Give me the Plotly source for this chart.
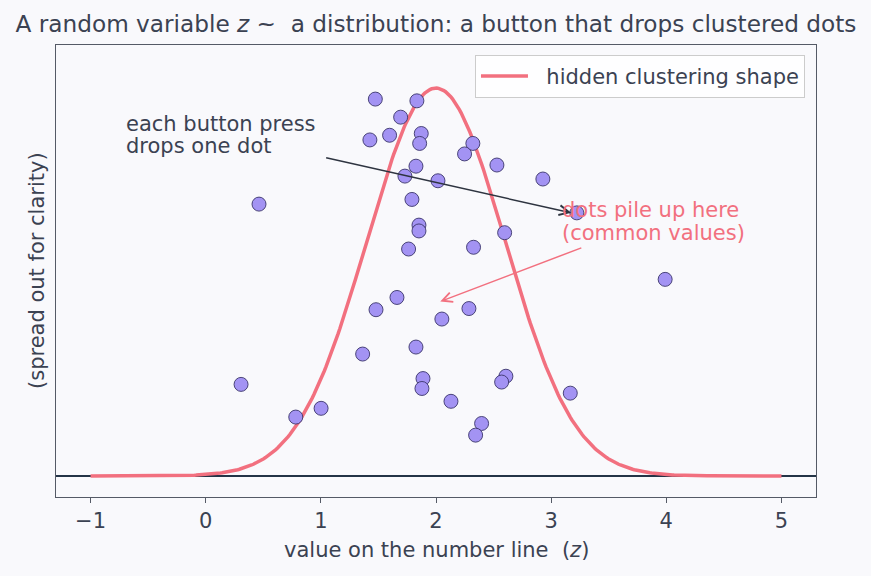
import numpy as np
import plotly.graph_objects as go

# ---- data ----
dot_x = [1.473, 1.834, 1.693, 1.597, 1.426, 1.872, 1.858, 2.320, 2.248, 2.529,
         1.826, 1.730, 2.017, 2.928, 1.791, 1.852, 1.852, 3.223, 2.596, 0.463,
         1.762, 2.326, 1.661, 1.479, 2.286, 2.051, 1.826, 1.363, 1.887, 1.878,
         2.607, 2.570, 3.166, 2.130, 2.396, 2.344, 0.307, 0.782, 1.002, 3.990]
dot_y = [0.646, 0.643, 0.615, 0.584, 0.576, 0.587, 0.570, 0.570, 0.552, 0.533,
         0.531, 0.514, 0.506, 0.509, 0.474, 0.430, 0.420, 0.451, 0.417, 0.466,
         0.389, 0.392, 0.306, 0.285, 0.287, 0.269, 0.221, 0.209, 0.167, 0.150,
         0.171, 0.161, 0.142, 0.128, 0.090, 0.070, 0.157, 0.101, 0.116, 0.337]

curve_mu = 2.0
curve_sigma = 0.6
curve_x_min, curve_x_max = -1.0, 5.0

x_tick_vals = [-1, 0, 1, 2, 3, 4, 5]
x_tick_text = ["\u22121", "0", "1", "2", "3", "4", "5"]

title_text = "A random variable <i>z</i> ~  a distribution: a button that drops clustered dots"
legend_label = "hidden clustering shape"
note1_lines = ["each button press", "drops one dot"]
note2_lines = ["dots pile up here", "(common values)"]

# ---- styles ----
TEXT = "#3b4252"
PINK = "#f2707f"
BG = "#f9f9fc"
FONT = "DejaVu Sans"

cx = np.linspace(curve_x_min, curve_x_max, 400)
cy = np.exp(-0.5 * ((cx - curve_mu) / curve_sigma) ** 2) / (curve_sigma * np.sqrt(2 * np.pi))

fig = go.Figure()
fig.add_trace(go.Scatter(x=cx, y=cy, mode="lines", name="\u00a0\u00a0" + legend_label,
                         line=dict(color=PINK, width=3.5), hoverinfo="skip"))
fig.add_trace(go.Scatter(x=dot_x, y=dot_y, mode="markers", showlegend=False,
                         marker=dict(size=14, color="#a393f3",
                                     line=dict(color="#3b366b", width=0.9))))

# baseline
fig.add_shape(type="line", xref="paper", yref="y", x0=0, x1=1, y0=0, y1=0,
              line=dict(color="#243447", width=1.8), layer="below")

ann = []
# black arrow + text
ann.append(dict(x=3.174, y=0.451, ax=1.033, ay=0.546, xref="x", yref="y",
                axref="x", ayref="y", text="", showarrow=True, arrowhead=5,
                arrowsize=1.3, arrowwidth=1.5, arrowcolor="#2e3440"))
for i, t in enumerate(note1_lines):
    ann.append(dict(x=-0.712, y=[0.604, 0.565][i], xref="x", yref="y", text=t,
                    showarrow=False, xanchor="left", yanchor="middle",
                    font=dict(size=21, color=TEXT, family=FONT)))
# pink arrow + text
ann.append(dict(x=2.037, y=0.299, ax=3.275, ay=0.392, xref="x", yref="y",
                axref="x", ayref="y", text="", showarrow=True, arrowhead=5,
                arrowsize=1.3, arrowwidth=1.5, arrowcolor=PINK))
for i, t in enumerate(note2_lines):
    ann.append(dict(x=3.075, y=[0.456, 0.417][i], xref="x", yref="y", text=t,
                    showarrow=False, xanchor="left", yanchor="middle",
                    font=dict(size=21, color=PINK, family=FONT)))
# axis labels
ann.append(dict(x=0.5, y=-0.117, xref="paper", yref="paper",
                text="value on the number line  (<i>z</i>)", showarrow=False,
                xanchor="center", yanchor="middle",
                font=dict(size=21, color=TEXT, family=FONT)))
ann.append(dict(x=-0.025, y=0.5, xref="paper", yref="paper",
                text="(spread out for clarity)", showarrow=False, textangle=-90,
                xanchor="center", yanchor="middle",
                font=dict(size=21, color=TEXT, family=FONT)))

fig.update_layout(
    width=871, height=576,
    margin=dict(l=56, r=55, t=45, b=79),
    paper_bgcolor=BG, plot_bgcolor=BG,
    font=dict(family=FONT, size=21, color=TEXT),
    title=dict(text=title_text, x=0.5, xref="paper", y=1 - 24 / 576,
               yref="container", xanchor="center", yanchor="middle",
               font=dict(size=23.2, color=TEXT, family=FONT)),
    showlegend=True,
    legend=dict(x=0.9855, y=0.978, xanchor="right", yanchor="top",
                itemwidth=47,
                bgcolor="rgba(255,255,255,0.85)", bordercolor="#cccccc",
                borderwidth=1, font=dict(size=21, color=TEXT, family=FONT)),
    annotations=ann,
    xaxis=dict(range=[-1.3, 5.3], tickvals=x_tick_vals, ticktext=x_tick_text,
               ticks="outside", ticklen=5, tickcolor="#555a66", tickwidth=1.2,
               showgrid=False, zeroline=False, showline=True, mirror=True,
               linecolor="#555a66", linewidth=1.4,
               tickfont=dict(size=21, color=TEXT, family=FONT)),
    yaxis=dict(range=[-0.036, 0.7387], showticklabels=False, ticks="",
               showgrid=False, zeroline=False, showline=True, mirror=True,
               linecolor="#555a66", linewidth=1.4),
)

fig.write_html("out.html")
